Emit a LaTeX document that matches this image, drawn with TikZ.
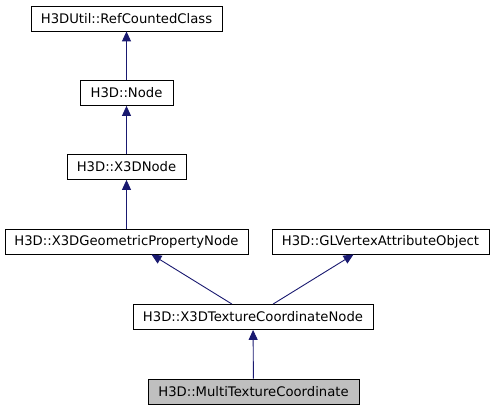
\documentclass[tikz,border=0pt]{standalone}
\usepackage{fontspec}
\setmainfont{DejaVu Sans}
\usetikzlibrary{arrows.meta}

\tikzset{
  cls/.style={draw=black, line width=0.8pt, fill=white, inner sep=0pt,
    minimum height=25pt, font=\fontsize{13.2}{15}\selectfont},
  cur/.style={cls, fill=black!25},
  inh/.style={draw={rgb,255:red,25;green,25;blue,112}, line width=0.9pt,
    {Triangle[length=10pt,width=9pt,fill={rgb,255:red,25;green,25;blue,112}]}-},
}

\begin{document}
\begin{tikzpicture}[x=1pt,y=-1pt]
        \useasboundingbox (0,0) rectangle (493,411);
        % Classes
        \node[cls, minimum width=191pt] (ref) at (126.5,18.5) {H3DUtil::RefCountedClass};
        \node[cls, minimum width=93pt] (node) at (126.5,93) {H3D::Node};
        \node[cls, minimum width=119pt] (x3d) at (126.5,167) {H3D::X3DNode};
        \node[cls, minimum width=243pt] (geo) at (126.5,241.5) {H3D::X3DGeometricPropertyNode};
        \node[cls, minimum width=217pt] (glv) at (380.5,241.5) {H3D::GLVertexAttributeObject};
        \node[cls, minimum width=240pt] (tcn) at (253,317) {H3D::X3DTextureCoordinateNode};
        \node[cur, minimum width=211pt] (mtc) at (253.5,391.5) {H3D::MultiTextureCoordinate};
        % Inheritance
        \draw[inh] (ref) -- (node);
        \draw[inh] (node) -- (x3d);
        \draw[inh] (x3d) -- (geo);
        \draw[inh] ([xshift=25pt]geo.south) -- ([xshift=-21pt]tcn.north);
        \draw[inh] ([xshift=-27pt]glv.south) -- ([xshift=20pt]tcn.north);
        \draw[inh] (tcn) -- (mtc);
    \end{tikzpicture}
\end{document}
